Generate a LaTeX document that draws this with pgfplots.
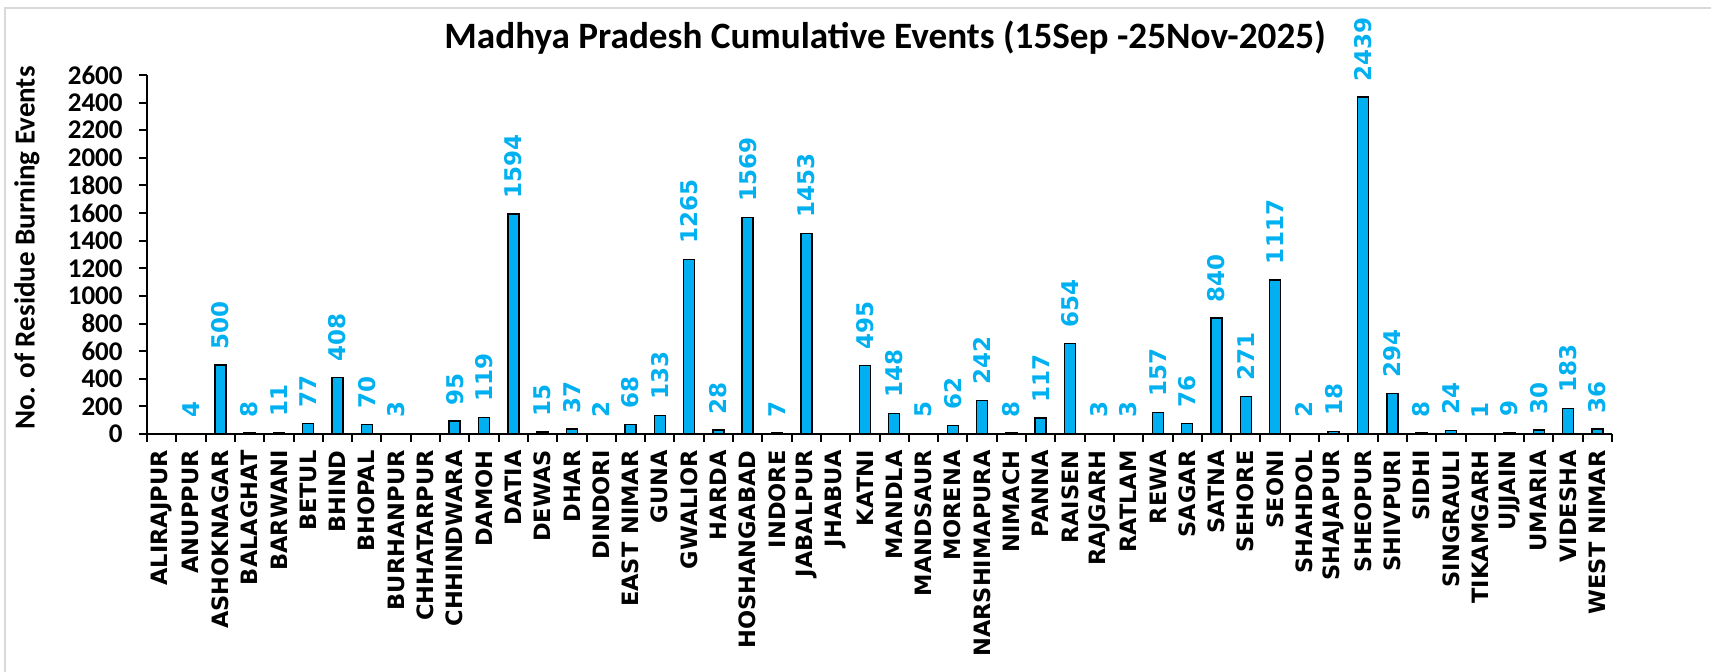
\documentclass[border=0pt]{standalone}
\usepackage{pgfplots}
\pgfplotsset{compat=1.18}
\usepackage{fontspec}
\setmainfont{Carlito}
\newfontfamily\dejavu{DejaVu Sans}
\definecolor{barblue}{HTML}{00B0F0}
\definecolor{framegray}{HTML}{D9D9D9}
\begin{document}
\begin{tikzpicture}
\path[use as bounding box] (0,0) rectangle (855.5pt,336pt);
\draw[framegray, line width=1pt] (2.5pt,0) -- (2.5pt,332pt) -- (855.5pt,332pt);
\begin{axis}[
  at={(73.5pt,119pt)}, anchor=south west,
  scale only axis, width=732.5pt, height=179.5pt,
  xmin=-0.5, xmax=49.5, ymin=0, ymax=2600,
  clip=false,
  axis x line*=bottom, axis y line*=left,
  axis line style={line width=1pt, black},
  ytick={0,200,...,2600},
  xtick={0,...,49},
  xticklabels={ALIRAJPUR,ANUPPUR,ASHOKNAGAR,BALAGHAT,BARWANI,BETUL,BHIND,BHOPAL,BURHANPUR,CHHATARPUR,CHHINDWARA,DAMOH,DATIA,DEWAS,DHAR,DINDORI,EAST NIMAR,GUNA,GWALIOR,HARDA,HOSHANGABAD,INDORE,JABALPUR,JHABUA,KATNI,MANDLA,MANDSAUR,MORENA,NARSHIMAPURA,NIMACH,PANNA,RAISEN,RAJGARH,RATLAM,REWA,SAGAR,SATNA,SEHORE,SEONI,SHAHDOL,SHAJAPUR,SHEOPUR,SHIVPURI,SIDHI,SINGRAULI,TIKAMGARH,UJJAIN,UMARIA,VIDESHA,WEST NIMAR},
  minor xtick={-0.5,0.5,...,49.5},
  tick align=outside,
  major tick length=4pt, minor tick length=4pt,
  tick style={black, line width=1pt},
  major x tick style={draw=none},
  xticklabel shift=4pt,
  xticklabel style={rotate=90, anchor=east, inner sep=0pt, font=\dejavu\bfseries\fontsize{11.25}{11.25}\selectfont},
  yticklabel style={anchor=east, inner sep=0pt, xshift=-8pt, font=\bfseries\fontsize{13.5}{13.5}\selectfont},
  /pgf/number format/.cd, 1000 sep={}, assume math mode=true, /pgfplots/.cd,
  ylabel={No. of Residue Burning Events},
  ylabel style={at={(axis description cs:-0.0819,0.518)}, anchor=center, font=\bfseries\fontsize{14.5}{14.5}\selectfont},
  title={Madhya Pradesh Cumulative Events (15Sep -25Nov-2025)},
  title style={at={(axis description cs:0.5038,1.039)}, anchor=base, inner sep=0pt, font=\bfseries\fontsize{18.6}{18.6}\selectfont},
  nodes near coords={\pgfmathfloatifflags{\pgfplotspointmeta}{0}{}{\pgfmathprintnumber{\pgfplotspointmeta}}},
  every node near coord/.append style={rotate=90, anchor=west, inner xsep=7.5pt, inner ysep=0pt, font=\dejavu\bfseries\fontsize{11.5}{11.5}\selectfont, text=barblue},
]
\addplot[ybar, bar width=5.5pt, fill=barblue, draw=black, line width=0.75pt] coordinates {
(0,0) (1,4) (2,500) (3,8) (4,11) (5,77) (6,408) (7,70) (8,3) (9,0)
(10,95) (11,119) (12,1594) (13,15) (14,37) (15,2) (16,68) (17,133) (18,1265) (19,28)
(20,1569) (21,7) (22,1453) (23,0) (24,495) (25,148) (26,5) (27,62) (28,242) (29,8)
(30,117) (31,654) (32,3) (33,3) (34,157) (35,76) (36,840) (37,271) (38,1117) (39,2)
(40,18) (41,2439) (42,294) (43,8) (44,24) (45,1) (46,9) (47,30) (48,183) (49,36)
};
\end{axis}
\end{tikzpicture}
\end{document}
